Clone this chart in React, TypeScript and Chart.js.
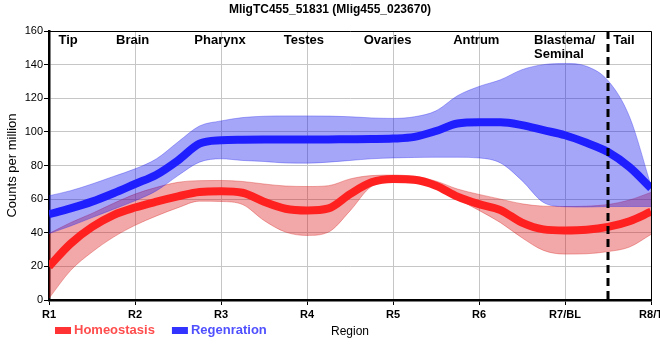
import React, { useEffect, useRef } from "react";
import { Chart, registerables } from "chart.js";

Chart.register(...registerables);

// Region positions (R1 = 1 ... R8 = 8)
const positions = [1, 1.25, 1.5, 1.75, 2, 2.25, 2.5, 2.75, 3, 3.25, 3.5, 3.75, 4, 4.25, 4.5, 4.75, 5, 5.25, 5.5, 5.75, 6, 6.25, 6.5, 6.75, 7, 7.25, 7.5, 7.75, 8];

const regenMean = [51, 54.5, 58.5, 63.5, 69, 74.5, 83, 93, 95, 95.3, 95.4, 95.4, 95.4, 95.5, 95.6, 95.7, 96, 97, 100.5, 105, 105.7, 105.7, 104, 101, 98, 93.5, 88, 79, 66.5];
const regenUpper = [62, 65, 69, 73.5, 78, 84, 94, 103.5, 106.5, 108.5, 109.3, 109.5, 109.5, 109.4, 109, 108.3, 108, 109, 112.5, 121.5, 127, 131, 137, 140, 140.7, 139, 130.5, 109, 68];
const regenLower = [39.5, 44, 49, 54, 59, 65, 74, 82, 84, 83, 82.4, 81.5, 81.4, 82, 83, 84, 84.5, 84.8, 84.9, 84.9, 84.5, 81.5, 71, 58, 55.5, 55.3, 55.6, 55.6, 55.6];

const homeoMean = [20, 33.5, 43.4, 50.5, 55, 58.5, 61.6, 64.3, 64.7, 63.8, 58.5, 54.3, 53.3, 54.5, 63, 70, 72, 71.5, 68, 61.5, 57, 53.5, 46, 42, 41.4, 41.8, 43.5, 46.9, 52.5];
const homeoUpper = [39.5, 46, 51.5, 57.5, 63, 67, 70, 71, 71.1, 70.5, 69, 67.8, 67.5, 68, 72, 74, 74.3, 73.5, 70.7, 66, 62.8, 60, 57.2, 55.8, 55.6, 55.8, 56.8, 59.5, 64];
const homeoLower = [1, 17.5, 28.5, 37.4, 44.4, 50, 54.9, 58.8, 58.6, 56.8, 47.3, 40.4, 38.4, 40.4, 53, 67.5, 70, 69.5, 66.5, 60, 53.3, 46, 37, 29.5, 27.3, 27.5, 28.8, 31.5, 39];

const tickLabels = ["R1", "R2", "R3", "R4", "R5", "R6", "R7/BL", "R8/T"];
const regionNames = ["Tip", "Brain", "Pharynx", "Testes", "Ovaries", "Antrum", "Blastema/\nSeminal", "Tail"];
const regionLabelX = [1.11, 1.78, 2.69, 3.73, 4.66, 5.7, 6.64, 7.56];
const dividerX = 7.5;

const seriesNames = ["Homeostasis", "Regenration"];

const FONT = "'Liberation Sans', Arial, sans-serif";

const toPts = (arr: number[]) => positions.map((x, i) => ({ x, y: arr[i] }));

const overlayPlugin = {
  id: "overlay",
  afterDatasetsDraw(chart: any) {
    const { ctx, chartArea } = chart;
    const xs = chart.scales.x;
    ctx.save();
    // frame top/right
    ctx.strokeStyle = "#000";
    ctx.lineWidth = 1;
    ctx.beginPath();
    ctx.moveTo(chartArea.left, chartArea.top + 0.5);
    ctx.lineTo(chartArea.right + 0.5, chartArea.top + 0.5);
    ctx.lineTo(chartArea.right + 0.5, chartArea.bottom);
    ctx.stroke();
    // divider
    const dx = xs.getPixelForValue(dividerX);
    ctx.lineWidth = 3;
    ctx.setLineDash([8, 5]);
    ctx.beginPath();
    ctx.moveTo(dx, chartArea.top);
    ctx.lineTo(dx, chartArea.bottom + 4);
    ctx.stroke();
    ctx.setLineDash([]);
    // region labels
    ctx.fillStyle = "#000";
    ctx.font = `bold 13px ${FONT}`;
    ctx.textAlign = "left";
    ctx.textBaseline = "alphabetic";
    regionNames.forEach((name, i) => {
      const px = xs.getPixelForValue(regionLabelX[i]);
      name.split("\n").forEach((line, j) => {
        ctx.fillText(line, px, chartArea.top + 13 + j * 13.5);
      });
    });
    ctx.restore();
  },
  afterDraw(chart: any) {
    const { ctx, chartArea, width } = chart;
    ctx.save();
    // title
    ctx.fillStyle = "#000";
    ctx.font = `bold 12px ${FONT}`;
    ctx.textAlign = "center";
    ctx.textBaseline = "alphabetic";
    ctx.fillText("MligTC455_51831 (Mlig455_023670)", width / 2, 13);
    // x axis title
    ctx.font = `12px ${FONT}`;
    ctx.textBaseline = "middle";
    ctx.fillText("Region", (chartArea.left + chartArea.right) / 2, 331.5);
    // legend
    const boxColors = ["#ff3333", "#3333ff"];
    const textColors = ["#ff4d4d", "#5050ff"];
    let lx = chartArea.left + 6;
    const ly = 330.5;
    ctx.font = `bold 13px ${FONT}`;
    ctx.textAlign = "left";
    seriesNames.forEach((name, i) => {
      ctx.fillStyle = boxColors[i];
      ctx.fillRect(lx, ly - 3.5, 16, 7);
      ctx.fillStyle = textColors[i];
      ctx.fillText(name, lx + 19, ly);
      lx += 19 + ctx.measureText(name).width + 17;
    });
    ctx.restore();
  },
};

export default function App() {
  const ref = useRef<HTMLCanvasElement | null>(null);
  useEffect(() => {
    document.body.style.margin = "0";
    if (!ref.current) return;
    const bandCommon = {
      pointRadius: 0,
      borderWidth: 1,
      cubicInterpolationMode: "monotone" as const,
    };
    const chart = new Chart(ref.current, {
      type: "line",
      data: {
        datasets: [
          {
            label: "regenMean",
            data: toPts(regenMean),
            borderColor: "#1e1eff",
            borderWidth: 8,
            pointRadius: 0,
            fill: false,
            cubicInterpolationMode: "monotone",
          },
          {
            label: "homeoMean",
            data: toPts(homeoMean),
            borderColor: "#ff2020",
            borderWidth: 8,
            pointRadius: 0,
            fill: false,
            cubicInterpolationMode: "monotone",
          },
          {
            label: "regenUpper",
            data: toPts(regenUpper),
            borderColor: "rgba(40,40,235,0.35)",
            backgroundColor: "rgba(20,20,240,0.38)",
            fill: "+1",
            ...bandCommon,
          },
          {
            label: "regenLower",
            data: toPts(regenLower),
            borderColor: "rgba(40,40,235,0.35)",
            fill: false,
            ...bandCommon,
          },
          {
            label: "homeoUpper",
            data: toPts(homeoUpper),
            borderColor: "rgba(215,30,30,0.35)",
            backgroundColor: "rgba(220,15,15,0.36)",
            fill: "+1",
            ...bandCommon,
          },
          {
            label: "homeoLower",
            data: toPts(homeoLower),
            borderColor: "rgba(215,30,30,0.35)",
            fill: false,
            ...bandCommon,
          },
        ],
      },
      options: {
        responsive: false,
        animation: false,
        devicePixelRatio: 1,
        layout: { padding: { top: 31, right: 9, bottom: 0, left: 0 } },
        plugins: {
          legend: { display: false },
          title: { display: false },
          tooltip: { enabled: false },
        },
        scales: {
          x: {
            type: "linear",
            min: 1,
            max: 8,
            afterFit: (s: any) => {
              s.height = 60;
              s.paddingLeft = 0;
              s.paddingRight = 0;
            },
            ticks: {
              stepSize: 1,
              autoSkip: false,
              maxRotation: 0,
              padding: 3,
              color: "#000",
              font: { family: FONT, size: 11, weight: "bold" },
              callback: (v: any) => tickLabels[Math.round(Number(v)) - 1] ?? "",
            },
            grid: { color: "#c6c6c6", lineWidth: 1, tickLength: 5, tickColor: "#000" },
            border: { color: "#000", width: 2.5 },
          },
          y: {
            min: 0,
            max: 160,
            afterFit: (s: any) => {
              s.width = 49;
            },
            ticks: {
              stepSize: 20,
              padding: 1,
              color: "#000",
              font: { family: FONT, size: 11 },
            },
            grid: { color: "#c6c6c6", lineWidth: 1, tickLength: 5, tickColor: "#000" },
            border: { color: "#000", width: 2.5 },
            title: {
              display: true,
              text: "Counts per million",
              color: "#000",
              font: { family: FONT, size: 13 },
              padding: { top: 5, bottom: 0 },
            },
          },
        },
      },
      plugins: [overlayPlugin],
    });
    return () => chart.destroy();
  }, []);
  return <canvas ref={ref} width={660} height={360} style={{ display: "block" }} />;
}
